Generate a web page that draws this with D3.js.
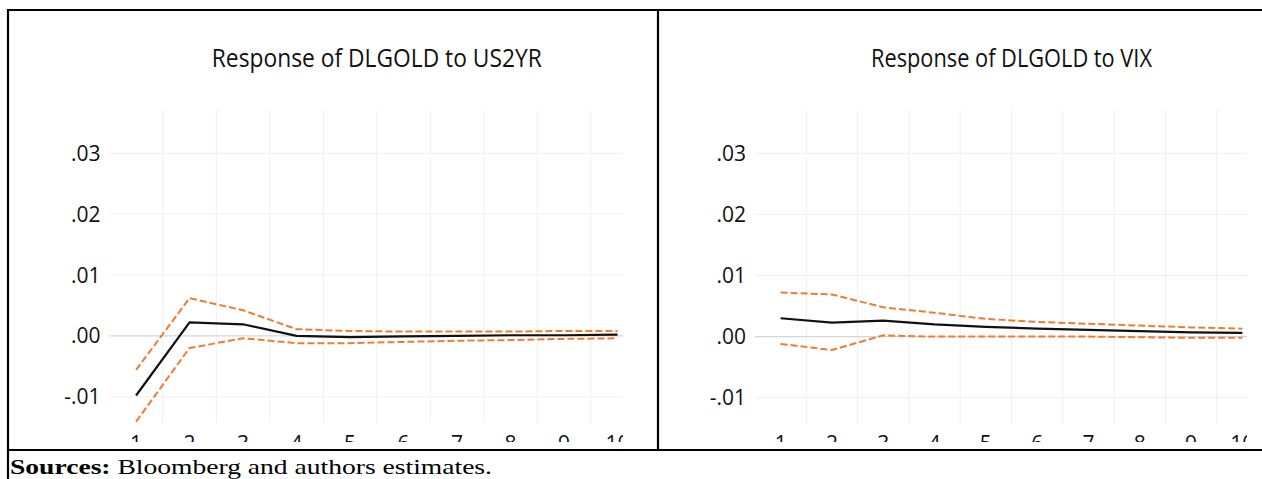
<!DOCTYPE html>
<html>
<head>
<meta charset="utf-8">
<script src="https://cdn.jsdelivr.net/npm/d3@7/dist/d3.min.js"></script>
<style>
  html, body { margin: 0; padding: 0; background: #fff; }
  svg { display: block; }
</style>
</head>
<body>
<svg id="chart" width="1262" height="479"></svg>
<script>
// ---------- data ----------
const periods = ["1","2","3","4","5","6","7","8","9","10"];
const yTickValues = [-0.01, 0, 0.01, 0.02, 0.03];
const yTickLabels = ["-.01", ".00", ".01", ".02", ".03"];

const us2yrResponse = [-0.0098, 0.0022, 0.0019, 0.0000, -0.0002, -0.0001, 0.0000, 0.0001, 0.0001, 0.0002];
const us2yrUpper    = [-0.0056, 0.0062, 0.0042, 0.0011, 0.0008, 0.0007, 0.0007, 0.0007, 0.0008, 0.0008];
const us2yrLower    = [-0.0141, -0.0020, -0.0004, -0.0012, -0.0012, -0.0010, -0.0008, -0.0007, -0.0005, -0.0004];

const vixResponse = [0.0030, 0.0023, 0.0026, 0.0020, 0.0016, 0.0013, 0.0011, 0.0009, 0.0007, 0.0006];
const vixUpper    = [0.0072, 0.0069, 0.0048, 0.0039, 0.0029, 0.0024, 0.0021, 0.0018, 0.0015, 0.0013];
const vixLower    = [-0.0012, -0.0022, 0.0002, 0.0000, 0.0000, 0.0000, 0.0000, -0.0001, -0.0002, -0.0002];

const titles = ["Response of DLGOLD to US2YR", "Response of DLGOLD to VIX"];
const sourceLabel = "Sources:";
const sourceText = " Bloomberg and authors estimates.";

// ---------- layout ----------
const svg = d3.select("#chart");
const FONT = "'Open Sans', 'Noto Sans', sans-serif";
const panels = [
  { id: "p1", title: titles[0], resp: us2yrResponse, up: us2yrUpper, lo: us2yrLower,
    x0: 109.3, step: 53.5, yTop: 153.3, yBot: 396.7, plotTop: 110, plotBot: 423.5,
    clipX0: 9, clipX1: 623, labelRight: 100.5, titleLen: 330 },
  { id: "p2", title: titles[1], resp: vixResponse, up: vixUpper, lo: vixLower,
    x0: 755, step: 51.3, yTop: 153.3, yBot: 397.7, plotTop: 110, plotBot: 424,
    clipX0: 659, clipX1: 1247, labelRight: 746, titleLen: 281 }
];

const defs = svg.append("defs");

panels.forEach(p => {
  const x = d3.scaleBand().domain(periods).range([p.x0, p.x0 + p.step * periods.length]).padding(0);
  const y = d3.scaleLinear().domain([-0.01, 0.03]).range([p.yBot, p.yTop]);
  const cx = d => x(d) + x.bandwidth() / 2;

  defs.append("clipPath").attr("id", "clip-" + p.id)
    .append("rect").attr("x", p.clipX0).attr("y", 11)
    .attr("width", p.clipX1 - p.clipX0).attr("height", 442 - 11);

  const g = svg.append("g").attr("clip-path", "url(#clip-" + p.id + ")");

  // title
  const xMid = (x.range()[0] + x.range()[1]) / 2;
  g.append("text")
    .attr("x", xMid).attr("y", 67)
    .attr("text-anchor", "middle")
    .style("font-family", FONT)
    .attr("font-size", 25)
    .attr("fill", "#111")
    .attr("textLength", p.titleLen)
    .attr("lengthAdjust", "spacingAndGlyphs")
    .text(p.title);

  // vertical gridlines (band boundaries)
  g.append("g").selectAll("line")
    .data(periods.slice(1))
    .join("line")
    .attr("x1", d => x(d)).attr("x2", d => x(d))
    .attr("y1", p.plotTop).attr("y2", p.plotBot)
    .attr("stroke", "#efefef").attr("stroke-width", 1);

  // horizontal gridlines
  g.append("g").selectAll("line")
    .data(yTickValues)
    .join("line")
    .attr("x1", x.range()[0]).attr("x2", x.range()[1])
    .attr("y1", d => y(d)).attr("y2", d => y(d))
    .attr("stroke", d => d === 0 ? "#d6d6d6" : "#efefef")
    .attr("stroke-width", d => d === 0 ? 1.3 : 1);

  // y labels
  g.append("g").selectAll("text")
    .data(yTickValues)
    .join("text")
    .attr("x", p.labelRight).attr("y", d => y(d))
    .attr("dy", "0.36em")
    .attr("text-anchor", "end")
    .style("font-family", FONT)
    .attr("font-size", 21)
    .attr("fill", "#111")
    .text((d, i) => yTickLabels[i]);

  // x labels (cropped at bottom like the source image)
  g.append("g").selectAll("text")
    .data(periods)
    .join("text")
    .attr("x", d => cx(d)).attr("y", 451)
    .attr("text-anchor", "middle")
    .style("font-family", FONT)
    .attr("font-size", 21)
    .attr("fill", "#111")
    .text(d => d);

  const line = d3.line().x((v, i) => cx(periods[i])).y(v => y(v));

  [p.up, p.lo].forEach(series => {
    g.append("path").datum(series)
      .attr("d", line)
      .attr("fill", "none")
      .attr("stroke", "#ED7D31")
      .attr("stroke-width", 2)
      .attr("stroke-dasharray", "7,3");
  });

  g.append("path").datum(p.resp)
    .attr("d", line)
    .attr("fill", "none")
    .attr("stroke", "#111")
    .attr("stroke-width", 2.2);
});

// table borders
const borders = [
  [7, 10, 1262, 10],
  [8, 9, 8, 479],
  [658, 10, 658, 451],
  [7, 450, 1262, 450]
];
svg.append("g").selectAll("line")
  .data(borders)
  .join("line")
  .attr("x1", d => d[0]).attr("y1", d => d[1])
  .attr("x2", d => d[2]).attr("y2", d => d[3])
  .attr("stroke", "#000").attr("stroke-width", 2.2);

// source note
const src = svg.append("text")
  .attr("x", 10).attr("y", 474)
  .style("font-family", "'Liberation Serif', 'Times New Roman', serif")
  .attr("font-size", 21)
  .attr("fill", "#000")
  .attr("textLength", 482)
  .attr("lengthAdjust", "spacingAndGlyphs");
src.append("tspan").attr("font-weight", "bold").text(sourceLabel);
src.append("tspan").text(sourceText);
</script>
</body>
</html>
